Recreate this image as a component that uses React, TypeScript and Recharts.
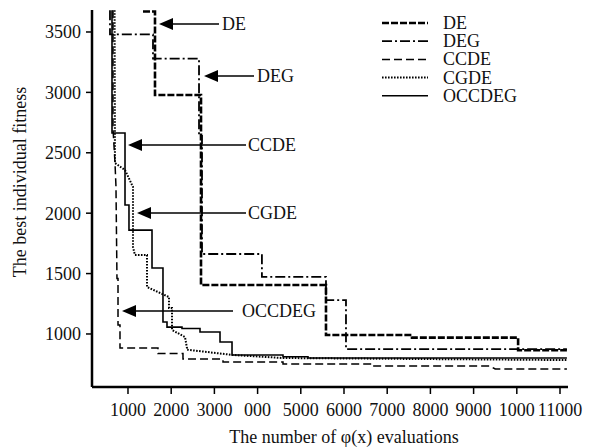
import React from "react";
import { LineChart, Line, XAxis, YAxis } from "recharts";

// tick values and the labels exactly as printed on the figure
const xTicks = [1000, 2000, 3000, 4000, 5000, 6000, 7000, 8000, 9000, 10000, 11000];
const xTickLabels = ["1000", "2000", "3000", "000", "5000", "6000", "7000", "8000", "9000", "1000", "11000"];
const yTicks = [1000, 1500, 2000, 2500, 3000, 3500];

// [evaluations, best fitness] corner points
const deData = [
  [1347, 3670], [1625, 3670], [1625, 2978], [2690, 2978], [2690, 1405],
  [5583, 1405], [5583, 991], [7574, 991], [7574, 970], [10030, 970],
  [10030, 865], [11160, 865],
];
const degData = [
  [583, 3680], [583, 3480], [1579, 3480], [1579, 3280], [2644, 3280],
  [2644, 2640], [2713, 2640], [2713, 1662], [4100, 1662], [4100, 1472],
  [5583, 1472], [5583, 1281], [6046, 1281], [6046, 875], [11160, 875],
];
const ccdeData = [
  [653, 3680], [653, 2700], [699, 2420], [722, 2220], [745, 1460],
  [769, 1460], [769, 1074], [815, 1074], [815, 884], [1694, 884],
  [1694, 838], [2273, 838], [2273, 792], [3199, 792], [3199, 768],
  [4588, 768], [4588, 752], [6671, 752], [6671, 735], [9380, 735],
  [9500, 710], [11160, 710],
];
const cgdeData = [
  [690, 3680], [699, 2415], [931, 2357], [1116, 2217], [1116, 1720],
  [1160, 1654], [1440, 1654], [1440, 1389], [1949, 1306], [1949, 1215],
  [2019, 1215], [2019, 1033], [2319, 975], [2366, 884], [2366, 870],
  [2968, 845], [3431, 826], [4588, 801], [11160, 784],
];
const occdegData = [
  [630, 3680], [630, 2664], [931, 2664], [931, 2068], [1023, 2068],
  [1023, 1860], [1556, 1860], [1556, 1546], [1810, 1546], [1810, 1099],
  [1903, 1099], [1903, 1057], [2250, 1057], [2250, 1045], [2667, 1045],
  [2667, 1016], [3130, 1016], [3130, 933], [3408, 933], [3408, 826],
  [4588, 826], [4588, 812], [5167, 812], [5167, 801], [11160, 801],
];

const toPoints = (pairs) => pairs.map(([x, y]) => ({ x, y }));

const series = [
  { name: "DE", data: deData, dash: "7 2", width: 2.6 },
  { name: "DEG", data: degData, dash: "10 3 2 3", width: 1.8 },
  { name: "CCDE", data: ccdeData, dash: "8 4", width: 1.5 },
  { name: "CGDE", data: cgdeData, dash: "1.6 1.4", width: 2 },
  { name: "OCCDEG", data: occdegData, dash: undefined, width: 1.6 },
];

// arrow annotations: tip position, end of shaft, label start
const notes = [
  { label: "DE", tipX: 159, y: 24, endX: 219, textX: 222 },
  { label: "DEG", tipX: 204, y: 76, endX: 254, textX: 257 },
  { label: "CCDE", tipX: 128, y: 145, endX: 246, textX: 248 },
  { label: "CGDE", tipX: 137, y: 213, endX: 246, textX: 248 },
  { label: "OCCDEG", tipX: 122, y: 311, endX: 233, textX: 242 },
];

const FONT = "'Liberation Serif', 'Times New Roman', serif";

const App = () => {
  return (
    <div style={{ position: "absolute", left: 0, top: 0, width: 597, height: 448, background: "#fff" }}>
      <LineChart width={597} height={448} margin={{ top: 10, right: 29, bottom: 31, left: 0 }}>
        <XAxis
          type="number"
          dataKey="x"
          domain={[167, 11185]}
          ticks={xTicks}
          interval={0}
          tickFormatter={(v) => xTickLabels[xTicks.indexOf(v)]}
          allowDataOverflow
          height={30}
          axisLine={{ stroke: "#000", strokeWidth: 2.5 }}
          tickLine={{ stroke: "#000", strokeWidth: 1.5 }}
          tickSize={7}
          tickMargin={9}
          tick={{ fill: "#111", fontSize: 18, fontFamily: FONT }}
        />
        <YAxis
          type="number"
          dataKey="y"
          domain={[561, 3682]}
          ticks={yTicks}
          interval={0}
          allowDataOverflow
          width={92}
          axisLine={{ stroke: "#000", strokeWidth: 2.5 }}
          tickLine={{ stroke: "#000", strokeWidth: 1.5 }}
          tickSize={6}
          tickMargin={5}
          tick={{ fill: "#111", fontSize: 18, fontFamily: FONT }}
        />
        {series.map((s) => (
          <Line
            key={s.name}
            data={toPoints(s.data)}
            dataKey="y"
            name={s.name}
            type="linear"
            stroke="#000"
            strokeWidth={s.width}
            strokeDasharray={s.dash}
            dot={false}
            activeDot={false}
            isAnimationActive={false}
          />
        ))}
      </LineChart>
      <svg
        width={597}
        height={448}
        style={{ position: "absolute", left: 0, top: 0, pointerEvents: "none" }}
        fontFamily={FONT}
      >
        {notes.map((n) => (
          <g key={n.label}>
            <polygon
              points={`${n.tipX},${n.y} ${n.tipX + 14},${n.y - 6} ${n.tipX + 14},${n.y + 6}`}
              fill="#000"
            />
            <line x1={n.tipX + 12} y1={n.y} x2={n.endX} y2={n.y} stroke="#000" strokeWidth={1.5} />
            <text x={n.textX} y={n.y + 6} fontSize={18} fill="#111">
              {n.label}
            </text>
          </g>
        ))}
        {series.map((s, i) => {
          const y = 23 + i * 18.2;
          return (
            <g key={s.name}>
              <line
                x1={382}
                y1={y}
                x2={428}
                y2={y}
                stroke="#000"
                strokeWidth={s.width}
                strokeDasharray={s.dash}
              />
              <text x={443} y={y + 6} fontSize={18} fill="#111">
                {s.name}
              </text>
            </g>
          );
        })}
        <text
          x={22}
          y={182}
          fontSize={18}
          fill="#111"
          textAnchor="middle"
          transform="rotate(-90 22 182)"
          dominantBaseline="middle"
        >
          The best individual fitness
        </text>
        <text x={344} y={443} fontSize={18} fill="#111" textAnchor="middle">
          The number of φ(x) evaluations
        </text>
      </svg>
    </div>
  );
};

export default App;
